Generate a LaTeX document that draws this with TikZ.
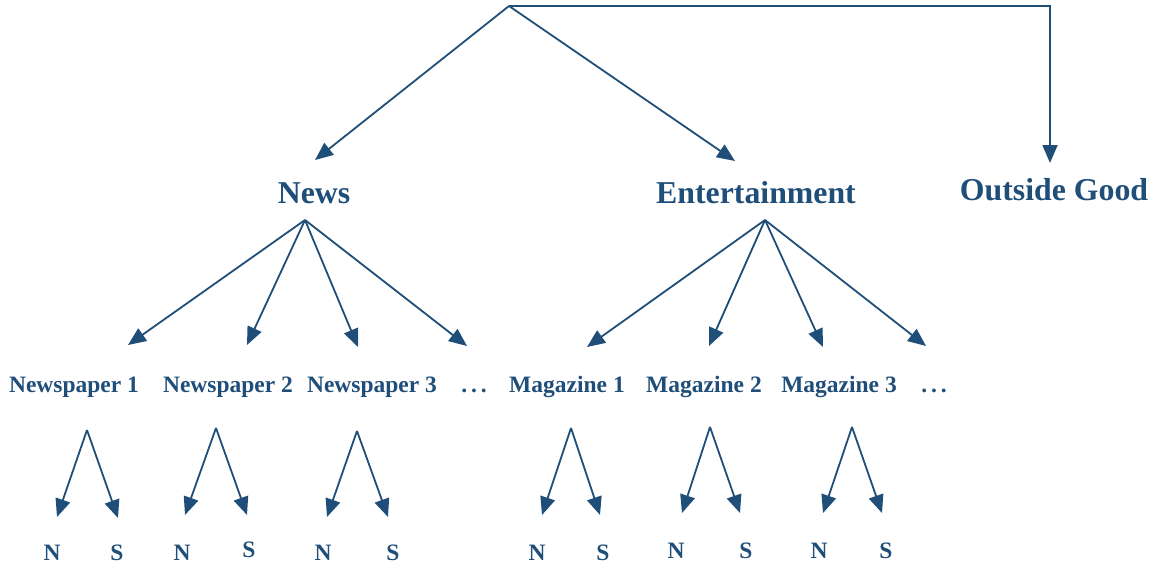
\documentclass[tikz,border=0pt]{standalone}
\usepackage{fontspec}
\setmainfont{Liberation Serif}
\usetikzlibrary{arrows.meta}
\definecolor{dblue}{HTML}{1F4E79}
\tikzset{
  conn/.style={draw=dblue, line width=1.8pt, -{Triangle[length=18pt,width=15pt]}},
  bigl/.style={text=dblue, font=\fontsize{31.8}{36}\selectfont\bfseries, anchor=base, inner sep=0pt},
  midl/.style={text=dblue, font=\fontsize{23.5}{27}\selectfont\bfseries, anchor=base, inner sep=0pt},
}
\begin{document}
\begin{tikzpicture}[x=1pt,y=-1pt]
\useasboundingbox (0,0) rectangle (1157,570);
% top level
\coordinate (root) at (509,6);
\coordinate (corner) at (1050,6);
\node[bigl] (news) at (314,203) {News};
\node[bigl] (ent) at (756,203) {Entertainment};
\node[bigl] (out) at (1054,200) {Outside Good};
\coordinate (tnews) at (315,160);
\coordinate (tent) at (735,161);
\coordinate (tout) at (1050,163);
\draw[conn] (root) -- (tnews);
\draw[conn] (root) -- (tent);
\draw[conn] (root) -- (corner) -- (tout);
% second level
\coordinate (an) at (305,220);
\coordinate (ae) at (765,220);
\node[midl] (np1) at (74,392) {Newspaper 1};
\node[midl] (np2) at (228,392) {Newspaper 2};
\node[midl] (np3) at (372,392) {Newspaper 3};
\node[midl] (nd) at (474,392) {.\,.\,.};
\node[midl] (mg1) at (567,392) {Magazine 1};
\node[midl] (mg2) at (704,392) {Magazine 2};
\node[midl] (mg3) at (839,392) {Magazine 3};
\node[midl] (md) at (934,392) {.\,.\,.};
\coordinate (t1) at (128,345);
\coordinate (t2) at (247,345);
\coordinate (t3) at (358,347);
\coordinate (t4) at (467,346);
\coordinate (t5) at (587,347);
\coordinate (t6) at (709,346);
\coordinate (t7) at (823,347);
\coordinate (t8) at (926,346);
\foreach \t in {t1,t2,t3,t4} \draw[conn] (an) -- (\t);
\foreach \t in {t5,t6,t7,t8} \draw[conn] (ae) -- (\t);
% third level
\foreach \i/\ax/\ay/\lx/\ly/\rx/\ry/\nx/\ny/\sx/\sy in {
  1/87/430/57/517/118/518/52/560/117/560,
  2/216/428/185/515/247/515/182/560/249/557,
  3/357/431/327/517/388/517/323/560/393/560,
  4/571/428/542/515/600/515/537/560/603/560,
  5/710/427/682/513/740/513/676/558/746/558,
  6/852/427/823/513/882/513/819/558/886/558}{
  \coordinate (ap\i) at (\ax,\ay);
  \coordinate (lt\i) at (\lx,\ly);
  \coordinate (rt\i) at (\rx,\ry);
  \node[midl] (N\i) at (\nx,\ny) {N};
  \node[midl] (S\i) at (\sx,\sy) {S};
  \draw[conn] (ap\i) -- (lt\i);
  \draw[conn] (ap\i) -- (rt\i);
}
\end{tikzpicture}
\end{document}
